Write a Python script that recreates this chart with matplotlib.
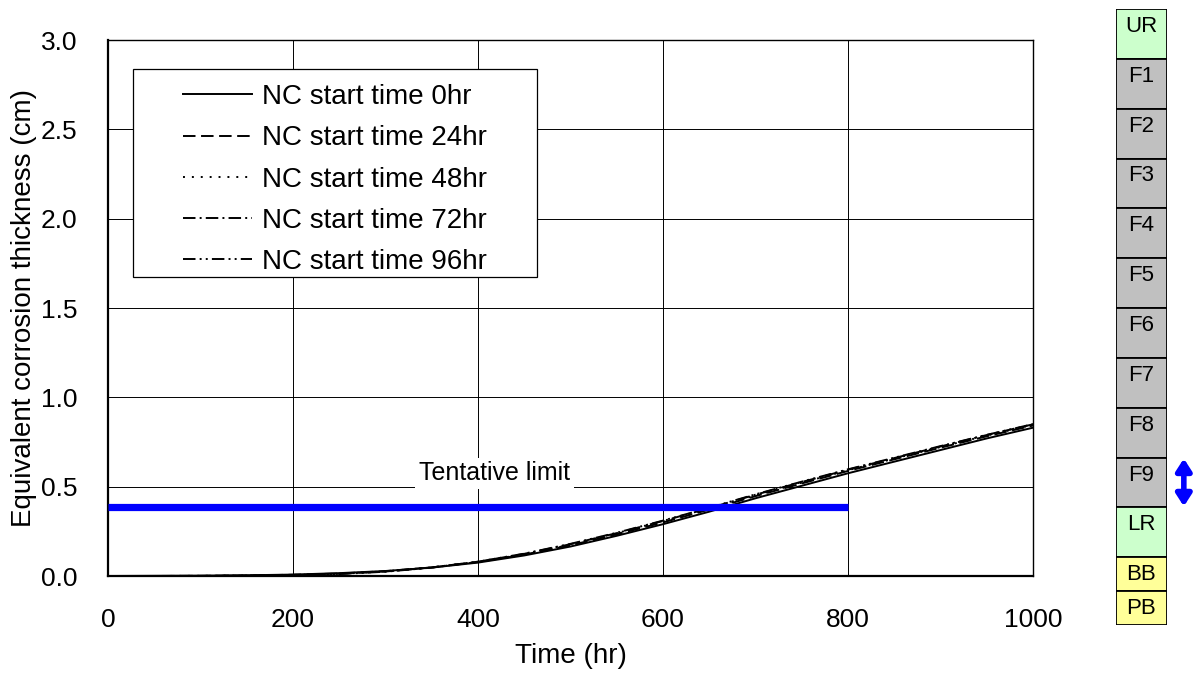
import matplotlib
matplotlib.use("Agg")
import matplotlib.pyplot as plt
from matplotlib.patches import Rectangle
import numpy as np

plt.rcParams['font.family'] = ['Liberation Sans', 'DejaVu Sans']
plt.rcParams['lines.scale_dashes'] = False

# Time axis (hr)
time_hr = [0, 50, 100, 150, 200, 250, 300, 350, 400, 450, 500,
           550, 600, 650, 700, 750, 800, 850, 900, 950, 1000]

# Equivalent corrosion thickness (cm) for each NC start time
nc_0hr = [0, 0.001, 0.002, 0.004, 0.008, 0.016, 0.028, 0.047, 0.075, 0.115, 0.165,
          0.225, 0.290, 0.360, 0.435, 0.505, 0.575, 0.640, 0.705, 0.770, 0.830]
nc_24hr = [0, 0.0, 0.001, 0.003, 0.007, 0.014, 0.027, 0.048, 0.078, 0.120, 0.172,
           0.233, 0.300, 0.372, 0.447, 0.518, 0.588, 0.653, 0.718, 0.782, 0.842]
nc_48hr = [0, 0.0, 0.001, 0.003, 0.006, 0.013, 0.026, 0.048, 0.079, 0.122, 0.175,
           0.236, 0.304, 0.376, 0.451, 0.522, 0.592, 0.657, 0.722, 0.786, 0.846]
nc_72hr = [0, 0.0, 0.0, 0.002, 0.005, 0.012, 0.025, 0.048, 0.080, 0.124, 0.178,
           0.240, 0.308, 0.380, 0.455, 0.526, 0.595, 0.660, 0.725, 0.789, 0.849]
nc_96hr = [0, 0.0, 0.0, 0.001, 0.004, 0.011, 0.024, 0.047, 0.080, 0.125, 0.180,
           0.242, 0.310, 0.382, 0.457, 0.528, 0.597, 0.662, 0.727, 0.790, 0.850]

series_labels = ["NC start time 0hr", "NC start time 24hr", "NC start time 48hr",
                 "NC start time 72hr", "NC start time 96hr"]

# Tentative limit line
limit_value = 0.385
limit_end_hr = 800
limit_label = "Tentative limit"

x_ticks = [0, 200, 400, 600, 800, 1000]
y_ticks = [0.0, 0.5, 1.0, 1.5, 2.0, 2.5, 3.0]

# Vessel layer column
layers = ["UR", "F1", "F2", "F3", "F4", "F5", "F6", "F7", "F8", "F9", "LR", "BB", "PB"]
layer_heights = [1, 1, 1, 1, 1, 1, 1, 1, 1, 1, 1, 0.68, 0.68]
layer_colors = ["#CCFFCC"] + ["#C0C0C0"] * 9 + ["#CCFFCC", "#FFFF99", "#FFFF99"]
marked_layer = "F9"

W, H = 1193, 680
fig = plt.figure(figsize=(W / 100, H / 100), dpi=100)
ax = fig.add_axes([108 / W, 1 - 576 / H, 925 / W, 536 / H])


def px_to_axes(xp, yp):
    """Figure pixel position (from top-left) to axes fraction."""
    return (xp - 108) / 925, 1 - (yp - 40) / 536


styles = [
    dict(linestyle='-'),
    dict(dashes=(9, 4)),
    dict(dashes=(1.4, 5)),
    dict(dashes=(9, 3, 1.4, 3)),
    dict(dashes=(9, 3, 1.4, 3, 1.4, 3)),
]
for vals, lab, st in zip([nc_0hr, nc_24hr, nc_48hr, nc_72hr, nc_96hr], series_labels, styles):
    ax.plot(time_hr, vals, color='black', lw=1.4, label=lab, **st)

ax.plot([0, limit_end_hr], [limit_value, limit_value], color='#0000FF', lw=5.2,
        solid_capstyle='butt', zorder=3)
ax.text(418, 0.575, limit_label, fontsize=18, ha='center', va='center',
        bbox=dict(facecolor='white', edgecolor='none', boxstyle='square,pad=0.15'),
        zorder=4)

ax.set_xlim(0, 1000)
ax.set_ylim(0, 3.0)
ax.set_xticks(x_ticks)
ax.set_yticks(y_ticks)
ax.set_xticklabels([str(v) for v in x_ticks])
ax.set_yticklabels([f"{v:.1f}" for v in y_ticks])
ax.tick_params(length=0, labelsize=19)
ax.tick_params(axis='y', pad=22)
ax.tick_params(axis='x', pad=23)
ax.grid(True, color='black', lw=0.7)
ax.set_axisbelow(True)
for s in ax.spines.values():
    s.set_linewidth(1.0)
ax.spines['left'].set_linewidth(1.6)
ax.spines['bottom'].set_linewidth(1.6)

ax.set_xlabel("Time (hr)", fontsize=20, labelpad=8)
ax.set_ylabel("Equivalent corrosion thickness (cm)", fontsize=20, labelpad=3)

# Legend frame and entries
fx0, fy0 = px_to_axes(133, 277)
fx1, fy1 = px_to_axes(537, 69)
ax.add_patch(Rectangle((fx0, fy0), fx1 - fx0, fy1 - fy0, transform=ax.transAxes,
                       facecolor='white', edgecolor='black', lw=0.9, zorder=5))
leg = ax.legend(loc='upper left', bbox_to_anchor=px_to_axes(183, 84),
                borderaxespad=0, borderpad=0, fontsize=20, frameon=False,
                handlelength=2.5, handletextpad=0.35, labelspacing=0.55)
leg.set_zorder(6)

# Layer column on the right
ax2 = fig.add_axes([1116 / W, 1 - 625 / H, 51 / W, 616 / H])
bottoms = np.concatenate([[0], np.cumsum(layer_heights)[:-1]])
ax2.bar([0] * len(layers), layer_heights, bottom=bottoms, width=1, color=layer_colors,
        edgecolor='black', linewidth=1.3, align='center')
for name, b in zip(layers, bottoms):
    ax2.text(0, b + 0.14, name, ha='center', va='top', fontsize=16)
total = float(np.sum(layer_heights))
ax2.set_xlim(-0.5, 0.5)
ax2.set_ylim(total, 0)
ax2.axis('off')

# Double arrow spanning the marked layer
i = layers.index(marked_layer)
ax2.annotate('', xy=(0.83, bottoms[i] + 0.02), xytext=(0.83, bottoms[i] + layer_heights[i] - 0.02),
             xycoords='data', annotation_clip=False,
             arrowprops=dict(arrowstyle='<|-|>,head_length=0.7,head_width=0.45',
                             color='#0000FF', lw=4, shrinkA=0, shrinkB=0))

fig.savefig("out.png", dpi=100)
